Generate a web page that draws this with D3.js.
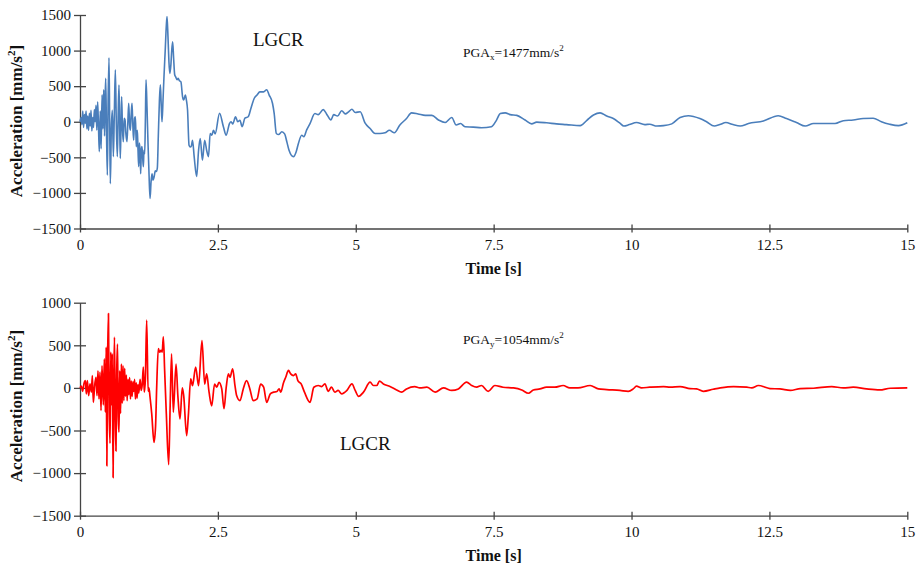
<!DOCTYPE html>
<html>
<head>
<meta charset="utf-8">
<script src="https://cdn.jsdelivr.net/npm/d3@7"></script>
<style>
  html, body { margin: 0; padding: 0; background: #fff; }
  text { font-family: "Liberation Serif", "Times New Roman", serif; fill: #111; }
  .tick text { font-size: 15px; }
  .axisTitle { font-weight: bold; font-size: 16px; }
  .yTitle { font-weight: bold; font-size: 17px; }
  .station { font-size: 19px; }
  .pga { font-size: 13.5px; }
</style>
</head>
<body>
<div id="chart"></div>
<script>
// time ticks shared by both panels
const timeTicks = [0, 2.5, 5, 7.5, 10, 12.5, 15];

// x direction record (time [s], acceleration [mm/s2])
const timeX = [0, 0.02, 0.035, 0.05, 0.065, 0.08, 0.095, 0.11, 0.125, 0.14, 0.155, 0.17, 0.185, 0.2, 0.215, 0.23, 0.245, 0.26, 0.275, 0.29, 0.305, 0.32, 0.335, 0.35, 0.367, 0.383, 0.4, 0.415, 0.43, 0.445, 0.455, 0.466, 0.48, 0.496, 0.51, 0.526, 0.538, 0.55, 0.568, 0.586, 0.605, 0.622, 0.641, 0.66, 0.677, 0.692, 0.707, 0.72, 0.731, 0.745, 0.755, 0.77, 0.786, 0.8, 0.816, 0.83, 0.852, 0.868, 0.883, 0.9, 0.913, 0.928, 0.943, 0.958, 0.973, 0.99, 1.004, 1.015, 1.022, 1.03, 1.04, 1.052, 1.064, 1.076, 1.088, 1.1, 1.112, 1.124, 1.136, 1.149, 1.16, 1.173, 1.185, 1.197, 1.215, 1.233, 1.25, 1.27, 1.288, 1.306, 1.324, 1.342, 1.366, 1.385, 1.402, 1.42, 1.44, 1.457, 1.472, 1.487, 1.505, 1.523, 1.545, 1.565, 1.578, 1.595, 1.612, 1.628, 1.648, 1.663, 1.68, 1.697, 1.717, 1.735, 1.76, 1.78, 1.8, 1.83, 1.86, 1.88, 1.91, 1.93, 1.95, 1.977, 2.0, 2.02, 2.04, 2.07, 2.115, 2.15, 2.18, 2.22, 2.26, 2.3, 2.33, 2.36, 2.39, 2.42, 2.45, 2.53, 2.6, 2.65, 2.71, 2.74, 2.77, 2.82, 2.86, 2.9, 2.94, 2.99, 3.05, 3.1, 3.16, 3.21, 3.26, 3.33, 3.385, 3.43, 3.49, 3.52, 3.56, 3.6, 3.66, 3.71, 3.75, 3.79, 3.87, 3.92, 3.96, 4.02, 4.06, 4.11, 4.17, 4.26, 4.32, 4.41, 4.47, 4.55, 4.6, 4.67, 4.745, 4.81, 4.87, 4.93, 4.99, 5.08, 5.17, 5.26, 5.35, 5.44, 5.53, 5.61, 5.7, 5.8, 5.92, 6.01, 6.13, 6.26, 6.38, 6.5, 6.62, 6.74, 6.82, 6.9, 6.98, 7.13, 7.28, 7.46, 7.55, 7.62, 7.71, 7.8, 7.92, 8.07, 8.19, 8.28, 8.46, 8.64, 8.82, 9.07, 9.19, 9.31, 9.43, 9.55, 9.67, 9.79, 9.86, 9.96, 10.09, 10.24, 10.33, 10.46, 10.58, 10.73, 10.88, 11.03, 11.24, 11.36, 11.5, 11.6, 11.71, 11.84, 11.97, 12.12, 12.39, 12.66, 12.81, 12.99, 13.15, 13.3, 13.48, 13.69, 13.84, 14.02, 14.2, 14.38, 14.53, 14.68, 14.84, 15];
const accX = [0, 60, -40, 150, -80, 100, -20, 150, -100, 80, -120, 120, -60, 160, -130, 60, -80, 170, 0, 230, -120, 280, -60, -420, 150, -380, 380, -100, 450, -200, 300, 610, -100, -750, 300, 900, 0, -870, -100, 160, -490, 100, 730, -100, -490, 100, 515, -100, -515, 0, 350, -100, -280, 50, 30, -150, -280, 0, 260, -50, -120, 100, 260, -50, -260, 50, 70, -200, -350, -150, -120, -400, -630, -300, -400, -730, -400, -350, -500, -630, -400, -450, 0, 590, 200, -300, -700, -1077, -850, -730, -820, -780, -690, -700, -650, -200, 300, 520, 250, 0, 300, 640, 1000, 1350, 1477, 1200, 850, 680, 800, 1000, 1124, 900, 660, 630, 590, 610, 580, 560, 350, 305, 375, 300, 165, -330, -355, -340, -260, -490, -770, -400, -235, -540, -260, -415, -490, -165, -190, -120, -170, 120, -70, -190, -25, 0, -30, 70, 0, 20, -70, 50, 70, 190, 330, 375, 420, 420, 450, 375, 260, 120, -165, -180, -140, -170, -280, -400, -490, -420, -305, -190, -210, -115, -25, 115, 100, 170, 110, 25, 100, 80, 155, 110, 140, 175, 130, 140, -20, -95, -165, -165, -155, -120, -155, -45, 45, 125, 110, 90, 90, 25, -10, 60, -45, -25, -70, -75, -85, -70, 20, 115, 125, 100, 90, 25, -30, -5, -15, -30, -40, -55, 20, 95, 125, 80, 45, -20, -60, -40, -10, -40, -35, -60, -55, -30, 60, 85, 45, 0, -60, -40, -10, -40, -60, -25, 10, 85, 45, -10, -60, -25, -25, -25, 15, 25, 45, 50, 0, -35, -55, -15];

// y direction record
const timeY = [0, 0.024, 0.048, 0.072, 0.097, 0.115, 0.133, 0.157, 0.181, 0.206, 0.224, 0.242, 0.266, 0.29, 0.308, 0.326, 0.344, 0.363, 0.381, 0.399, 0.423, 0.441, 0.459, 0.475, 0.487, 0.5, 0.516, 0.53, 0.545, 0.558, 0.572, 0.585, 0.6, 0.613, 0.625, 0.64, 0.652, 0.665, 0.68, 0.693, 0.707, 0.72, 0.735, 0.75, 0.765, 0.78, 0.795, 0.81, 0.825, 0.84, 0.855, 0.87, 0.885, 0.9, 0.915, 0.93, 0.945, 0.96, 0.975, 0.99, 1.005, 1.02, 1.035, 1.05, 1.065, 1.09, 1.11, 1.13, 1.148, 1.165, 1.185, 1.209, 1.235, 1.25, 1.27, 1.3, 1.342, 1.37, 1.39, 1.42, 1.445, 1.47, 1.49, 1.511, 1.535, 1.565, 1.608, 1.635, 1.66, 1.692, 1.741, 1.775, 1.813, 1.855, 1.88, 1.934, 1.965, 2.007, 2.04, 2.097, 2.15, 2.212, 2.26, 2.297, 2.34, 2.388, 2.44, 2.48, 2.52, 2.57, 2.611, 2.65, 2.69, 2.72, 2.768, 2.81, 2.84, 2.9, 2.96, 3.02, 3.08, 3.14, 3.21, 3.276, 3.33, 3.385, 3.45, 3.51, 3.57, 3.61, 3.64, 3.69, 3.73, 3.78, 3.82, 3.87, 3.91, 3.95, 4.01, 4.07, 4.17, 4.24, 4.32, 4.38, 4.44, 4.5, 4.56, 4.62, 4.68, 4.745, 4.84, 4.93, 4.99, 5.05, 5.14, 5.26, 5.32, 5.38, 5.43, 5.5, 5.62, 5.74, 5.83, 5.92, 6.07, 6.16, 6.29, 6.44, 6.59, 6.74, 6.86, 7.01, 7.1, 7.19, 7.28, 7.4, 7.52, 7.67, 7.86, 8.01, 8.13, 8.22, 8.34, 8.46, 8.61, 8.76, 8.88, 9.03, 9.25, 9.4, 9.55, 9.79, 9.94, 10.03, 10.09, 10.18, 10.33, 10.58, 10.7, 10.88, 11.06, 11.18, 11.3, 11.48, 11.61, 11.85, 12.09, 12.18, 12.3, 12.51, 12.69, 12.88, 13.06, 13.3, 13.63, 13.84, 14.02, 14.26, 14.5, 14.69, 15];
const accY = [0, 20, -40, 50, 86, -70, 86, -90, 47, -50, 145, -170, 27, 125, -90, 200, -130, 185, -265, 260, -200, 340, -285, 480, -915, 300, 872, -300, -650, 420, -200, 400, -1053, 100, 595, -400, -740, 150, 515, -350, -520, 200, -300, 280, -180, 260, -150, 230, -100, 150, -150, 100, -80, 120, -130, 80, -100, 70, -40, 100, -130, 60, -120, 40, -60, 100, -30, 50, 245, -50, 100, 795, -40, 0, -110, -300, -640, -450, 0, 460, 420, 440, 420, 600, 200, -300, -900, -200, 400, -285, 280, -100, -365, 0, -90, -560, -320, 105, 27, 245, 27, 555, 45, 165, -50, -210, 45, 8, 65, -12, -245, 0, 165, 125, 225, 27, -90, -150, -12, 85, -12, -150, -130, 45, 8, -170, -70, -50, -43, -10, -50, 60, 125, 205, 165, 145, 165, 85, 47, -50, -170, 8, 28, 16, 47, -40, 8, -50, -30, -70, -30, 47, -30, -100, -50, 67, 28, 28, 79, 47, 16, -24, -50, -12, 15, 0, 8, -50, 0, -30, -12, 67, 28, 8, 28, -40, 28, 8, 0, -24, -63, -24, -12, 8, 8, 28, 0, 0, 28, -12, -20, -30, -40, -12, 20, 0, 8, 16, 8, 16, -8, -12, -40, -16, 0, 16, 8, 0, 28, -8, -12, -30, -8, -4, 16, 0, 8, -12, -24, -4, 0];

const ticksX = [-1500, -1000, -500, 0, 500, 1000, 1500];
const ticksY = [-1500, -1000, -500, 0, 500, 1000];

const width = 919, height = 564;
const left = 80, right = 907.3;

const svg = d3.select('#chart').append('svg')
  .attr('width', width)
  .attr('height', height);

const xScale = d3.scaleLinear().domain([0, 15]).range([left, right]);

function drawPanel(p) {
  const yScale = d3.scaleLinear().domain(p.domain).range([p.bottom, p.top]);
  const g = svg.append('g');

  // y axis with ticks crossing the line
  const yAxis = g.append('g')
    .attr('transform', 'translate(' + left + ',0)')
    .call(d3.axisLeft(yScale).tickValues(p.ticks).tickSize(0).tickSizeOuter(0).tickFormat(d3.format('d')));
  yAxis.selectAll('.tick line').attr('x1', -6).attr('x2', 6);
  yAxis.selectAll('.tick text').attr('x', -9);

  const xAxis = g.append('g')
    .attr('transform', 'translate(0,' + p.bottom + ')')
    .call(d3.axisBottom(xScale).tickValues(timeTicks).tickSize(0).tickSizeOuter(0).tickFormat(d => String(d)));
  xAxis.selectAll('.tick line').attr('y1', -4).attr('y2', 4);
  xAxis.selectAll('.tick text').attr('y', 11);

  // drop d3's default sans-serif axis font so the serif style applies
  g.selectAll('g').attr('font-family', null).attr('font-size', null);
  g.selectAll('.domain, .tick line').attr('stroke', '#444').attr('stroke-width', 1.3);
  g.selectAll('.tick text').attr('fill', '#111');

  const line = d3.line()
    .x((d, i) => xScale(p.t[i]))
    .y(d => yScale(d))
    .curve(d3.curveMonotoneX);

  g.append('path')
    .datum(p.a)
    .attr('d', line)
    .attr('fill', 'none')
    .attr('stroke', p.color)
    .attr('stroke-width', p.lw)
    .attr('stroke-linejoin', 'round');

  g.append('text')
    .attr('class', 'axisTitle')
    .attr('x', (left + right) / 2)
    .attr('y', p.bottom + 45)
    .attr('text-anchor', 'middle')
    .text('Time [s]');

  const yt = g.append('text')
    .attr('class', 'yTitle')
    .attr('transform', 'translate(22,' + p.yMid + ') rotate(-90)')
    .attr('text-anchor', 'middle');
  yt.append('tspan').text('Acceleration [mm/s');
  yt.append('tspan').attr('font-size', '11px').attr('dy', -7).text('2');
  yt.append('tspan').attr('dy', 7).text(']');

  g.append('text')
    .attr('class', 'station')
    .attr('x', p.stationX)
    .attr('y', p.stationY)
    .text('LGCR');

  const pga = g.append('text')
    .attr('class', 'pga')
    .attr('x', 463)
    .attr('y', p.pgaY);
  pga.append('tspan').text('PGA');
  pga.append('tspan').attr('font-size', '9px').attr('dy', 3).text(p.sub);
  pga.append('tspan').attr('dy', -3).text('=' + p.pga + 'mm/s');
  pga.append('tspan').attr('font-size', '9px').attr('dy', -6).text('2');
}

drawPanel({
  t: timeX, a: accX, domain: [-1500, 1500], ticks: ticksX,
  top: 15, bottom: 228.5, yMid: 121, color: '#4a7ebb', lw: 1.6,
  stationX: 253, stationY: 46, pgaY: 57, sub: 'x', pga: 1477
});

drawPanel({
  t: timeY, a: accY, domain: [-1500, 1000], ticks: ticksY,
  top: 302.7, bottom: 515.7, yMid: 406, color: '#ff0000', lw: 1.7,
  stationX: 340, stationY: 450, pgaY: 344, sub: 'y', pga: 1054
});
</script>
</body>
</html>
